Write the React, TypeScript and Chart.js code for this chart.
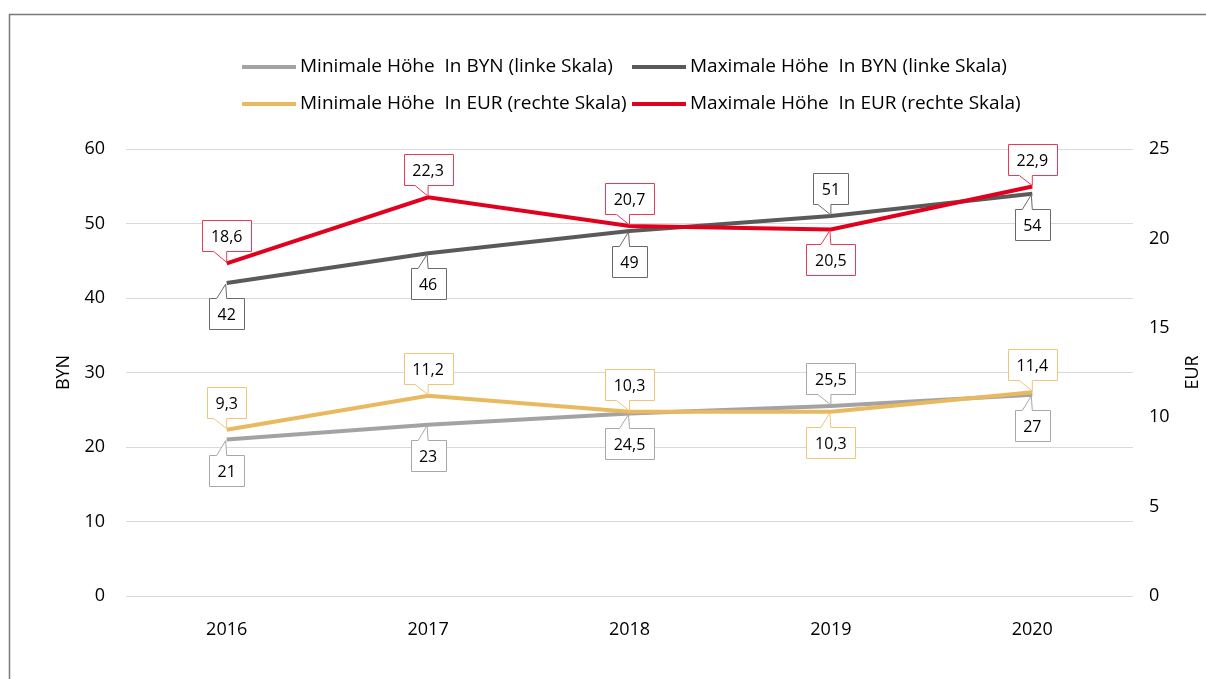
import React, { useEffect, useRef } from "react";
import { Chart, registerables } from "chart.js";

Chart.register(...registerables);

// ---- data ----
const years = ["2016", "2017", "2018", "2019", "2020"];
const minBYN = [21, 23, 24.5, 25.5, 27];
const maxBYN = [42, 46, 49, 51, 54];
const minEUR = [9.3, 11.2, 10.3, 10.3, 11.4];
const maxEUR = [18.6, 22.3, 20.7, 20.5, 22.9];

const seriesLabels = [
  "Minimale Höhe  In BYN (linke Skala)",
  "Maximale Höhe  In BYN (linke Skala)",
  "Minimale Höhe  In EUR (rechte Skala)",
  "Maximale Höhe  In EUR (rechte Skala)",
];
const leftAxisTitle = "BYN";
const rightAxisTitle = "EUR";

// callout placement per point
const minBYNPlace = ["below", "below", "below", "above", "below"];
const maxBYNPlace = ["below", "below", "below", "above", "below"];
const minEURPlace = ["above", "above", "above", "below", "above"];
const maxEURPlace = ["above", "above", "above", "below", "above"];

const FONT = "'Open Sans', 'Noto Sans', sans-serif";

const colors = {
  minBYN: "#a3a3a3",
  maxBYN: "#5a5a5a",
  minEUR: "#e9b95f",
  maxEUR: "#e2001f",
};
const boxColors = {
  minBYN: "#a8a8a8",
  maxBYN: "#6a6a6a",
  minEUR: "#efc676",
  maxEUR: "#e63a55",
};

const fmt = (v: number) => String(v).replace(".", ",");

const decorPlugin = {
  id: "decor",
  beforeDraw(chart: any) {
    const ctx = chart.ctx;
    ctx.save();
    ctx.fillStyle = "#ffffff";
    ctx.fillRect(0, 0, chart.width, chart.height);
    ctx.strokeStyle = "#7a7a7a";
    ctx.lineWidth = 1.5;
    ctx.beginPath();
    ctx.moveTo(9.5, chart.height);
    ctx.lineTo(9.5, 14.5);
    ctx.lineTo(chart.width, 14.5);
    ctx.stroke();
    ctx.restore();
  },
  afterDraw(chart: any) {
    const ctx = chart.ctx;
    ctx.save();
    // legend (2x2 grid)
    const cols = [242, 632];
    const rows = [67, 104];
    chart.data.datasets.forEach((ds: any, i: number) => {
      const x = cols[i % 2];
      const y = rows[Math.floor(i / 2)];
      ctx.strokeStyle = ds.borderColor;
      ctx.lineWidth = 4;
      ctx.lineCap = "butt";
      ctx.beginPath();
      ctx.moveTo(x, y);
      ctx.lineTo(x + 54, y);
      ctx.stroke();
      ctx.fillStyle = "#000";
      ctx.font = `19px ${FONT}`;
      ctx.textAlign = "left";
      ctx.textBaseline = "middle";
      ctx.fillText(ds.label, x + 58, y);
    });
    // axis titles
    const cy = (chart.chartArea.top + chart.chartArea.bottom) / 2;
    ctx.font = `18px ${FONT}`;
    ctx.textAlign = "center";
    ctx.textBaseline = "middle";
    ctx.fillStyle = "#000";
    [
      [64, leftAxisTitle],
      [1193, rightAxisTitle],
    ].forEach(([x, t]: any) => {
      ctx.save();
      ctx.translate(x, cy);
      ctx.rotate(-Math.PI / 2);
      ctx.fillText(t, 0, 0);
      ctx.restore();
    });
    ctx.restore();
  },
  afterDatasetsDraw(chart: any) {
    const ctx = chart.ctx;
    ctx.save();
    ctx.font = `16px ${FONT}`;
    chart.data.datasets.forEach((ds: any, i: number) => {
      const meta = chart.getDatasetMeta(i);
      meta.data.forEach((pt: any, j: number) => {
        const text = fmt(ds.data[j]);
        const tw = ctx.measureText(text).width;
        const w = Math.round(tw + 17);
        const h = 31;
        const px = pt.x;
        const py = pt.y;
        const left = Math.round(px - w / 2) + 0.5;
        const right = left + w;
        ctx.beginPath();
        if (ds.place[j] === "above") {
          const bottom = Math.round(py - 12) + 0.5;
          const top = bottom - h;
          ctx.moveTo(left, top);
          ctx.lineTo(right, top);
          ctx.lineTo(right, bottom);
          ctx.lineTo(px, bottom);
          ctx.lineTo(px, py - 1);
          ctx.lineTo(px - 13, bottom);
          ctx.lineTo(left, bottom);
          ctx.closePath();
          drawBox(ctx, ds.boxColor, text, px, (top + bottom) / 2);
        } else {
          const top = Math.round(py + 15) + 0.5;
          const bottom = top + h;
          ctx.moveTo(left, top);
          ctx.lineTo(px - 10, top);
          ctx.lineTo(px - 1, py + 1);
          ctx.lineTo(px, top);
          ctx.lineTo(right, top);
          ctx.lineTo(right, bottom);
          ctx.lineTo(left, bottom);
          ctx.closePath();
          drawBox(ctx, ds.boxColor, text, px, (top + bottom) / 2);
        }
      });
    });
    ctx.restore();
  },
};

function drawBox(ctx: any, color: string, text: string, cx: number, cy: number) {
  ctx.fillStyle = "#ffffff";
  ctx.fill();
  ctx.strokeStyle = color;
  ctx.lineWidth = 1;
  ctx.stroke();
  ctx.fillStyle = "#000";
  ctx.textAlign = "center";
  ctx.textBaseline = "middle";
  ctx.fillText(text, cx, cy + 1);
}

export default function App() {
  const ref = useRef<HTMLCanvasElement | null>(null);
  useEffect(() => {
    document.body.style.margin = "0";
    if (!ref.current) return;
    const mk = (label: string, data: number[], color: string, box: string, axis: string, place: string[], order: number) => ({
      label,
      data,
      borderColor: color,
      backgroundColor: color,
      boxColor: box,
      place,
      yAxisID: axis,
      borderWidth: 4,
      pointRadius: 0,
      tension: 0,
      order,
    });
    const chart = new Chart(ref.current, {
      type: "line",
      data: {
        labels: years,
        datasets: [
          mk(seriesLabels[0], minBYN, colors.minBYN, boxColors.minBYN, "y", minBYNPlace, 2),
          mk(seriesLabels[1], maxBYN, colors.maxBYN, boxColors.maxBYN, "y", maxBYNPlace, 2),
          mk(seriesLabels[2], minEUR, colors.minEUR, boxColors.minEUR, "y1", minEURPlace, 1),
          mk(seriesLabels[3], maxEUR, colors.maxEUR, boxColors.maxEUR, "y1", maxEURPlace, 1),
        ] as any,
      },
      options: {
        animation: false,
        responsive: true,
        maintainAspectRatio: false,
        layout: { padding: { top: 149, left: 0, right: 0, bottom: 0 } },
        plugins: { legend: { display: false }, tooltip: { enabled: false } },
        scales: {
          x: {
            offset: true,
            grid: { display: false },
            border: { display: false },
            ticks: { color: "#000", font: { size: 18, family: FONT }, padding: 15 },
            afterFit: (s: any) => {
              s.height = 83;
            },
          },
          y: {
            position: "left",
            min: 0,
            max: 60,
            ticks: { stepSize: 10, color: "#000", font: { size: 18, family: FONT }, padding: 21 },
            grid: { color: "#d9d9d9", lineWidth: 1, drawTicks: false },
            border: { display: false },
            afterFit: (s: any) => {
              s.width = 126;
            },
          },
          y1: {
            position: "right",
            min: 0,
            max: 25,
            ticks: { stepSize: 5, color: "#000", font: { size: 18, family: FONT }, padding: 16 },
            grid: { drawOnChartArea: false, drawTicks: false },
            border: { display: false },
            afterFit: (s: any) => {
              s.width = 73;
            },
          },
        },
      } as any,
      plugins: [decorPlugin],
    });
    return () => chart.destroy();
  }, []);
  return (
    <div style={{ width: 1206, height: 679, position: "relative" }}>
      <canvas ref={ref} />
    </div>
  );
}
